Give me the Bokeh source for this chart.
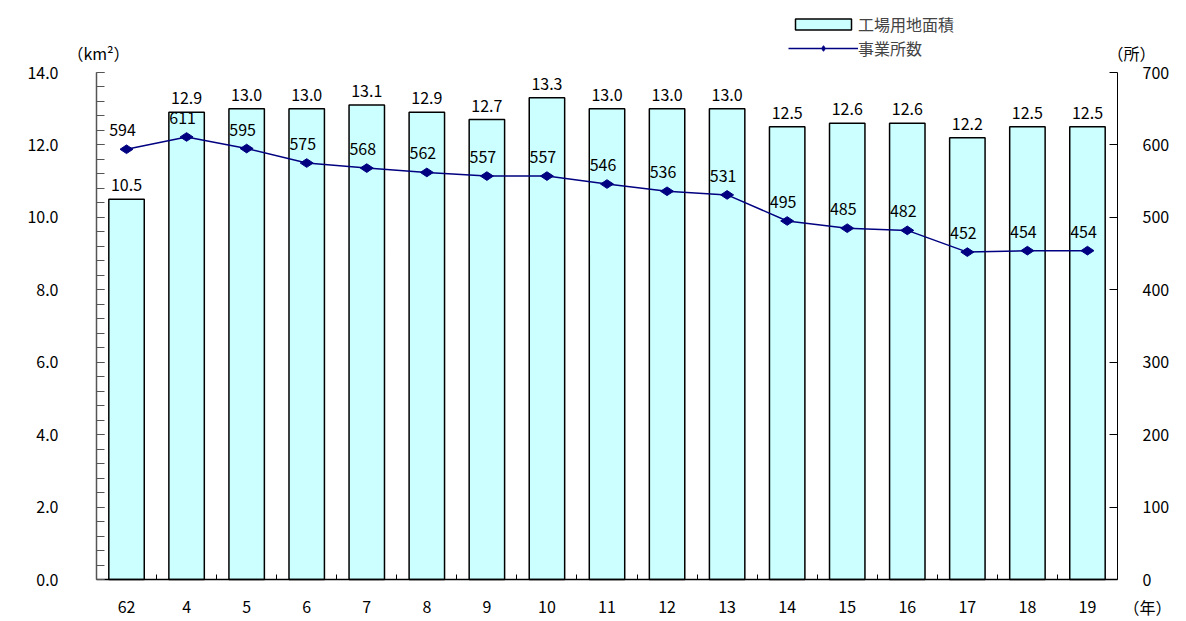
import math
from bokeh.plotting import figure
from bokeh.models import (FactorRange, Range1d, LinearAxis, CategoricalAxis,
                          SingleIntervalTicker, NumeralTickFormatter, ColumnDataSource,
                          LabelSet, Label, Legend, LegendItem)
from bokeh.core.properties import value
from bokeh.embed import file_html
from bokeh.resources import INLINE

# ---- data ----
years = ["62", "4", "5", "6", "7", "8", "9", "10", "11", "12", "13",
         "14", "15", "16", "17", "18", "19"]
area_km2 = [10.5, 12.9, 13.0, 13.0, 13.1, 12.9, 12.7, 13.3, 13.0, 13.0, 13.0,
            12.5, 12.6, 12.6, 12.2, 12.5, 12.5]
offices = [594, 611, 595, 575, 568, 562, 557, 557, 546, 536, 531,
           495, 485, 482, 452, 454, 454]
series_names = ["工場用地面積", "事業所数"]
left_unit = "（km²）"
right_unit = "（所）"
x_unit = "（年）"
AREA_MAX = 14
OFFICE_MAX = 700

FONT = "Noto Sans CJK JP"
FS = "16px"

# ---- layout (pixels) ----
W, H = 1186, 620
AX_L, AX_R, AX_T, AX_B = 96, 1117, 72, 579      # where the axes sit on the canvas
n = len(years)
band = (AX_R - AX_L) / n
pad_px = W - AX_R
LEFT = AX_L - pad_px
pad_bands = pad_px / band            # FactorRange absolute padding is applied on each side
ppu = (AX_B - AX_T) / AREA_MAX
y_start = -(H - AX_B) / ppu
y_end = AREA_MAX + AX_T / ppu
k = OFFICE_MAX / AREA_MAX

# boundaries between consecutive categories (for the small ticks on the x axis)
bounds = [f"{a}|{b}" for a, b in zip(years[:-1], years[1:])]

src = ColumnDataSource(dict(
    year=years, area=area_km2, offices=offices,
    area_label=[f"{v:.1f}" for v in area_km2],
    office_label=[str(v) for v in offices],
))

p = figure(width=W, height=H,
           x_range=FactorRange(*years, range_padding=pad_bands, range_padding_units="absolute"),
           y_range=Range1d(y_start, y_end),
           x_axis_location=None, y_axis_location=None,
           output_backend="svg", toolbar_location=None,
           min_border=0, min_border_left=LEFT)
p.extra_y_ranges = {"n": Range1d(y_start * k, y_end * k)}
p.extra_x_ranges = {"b": FactorRange(factors=bounds, range_padding=pad_bands + 0.5,
                                     range_padding_units="absolute")}
p.xgrid.visible = False
p.ygrid.visible = False
p.outline_line_color = None
p.background_fill_color = "white"
p.border_fill_color = "white"

# x axis: line + category labels
cat_axis = CategoricalAxis(fixed_location=0, bounds=(0, n),
                           axis_line_color="black", axis_line_width=1.5,
                           major_tick_line_color=None, minor_tick_line_color=None,
                           major_label_standoff=15,
                           major_label_text_font=FONT, major_label_text_font_size=FS,
                           major_label_text_color="black")
p.add_layout(cat_axis, "below")
# x axis: small ticks at the category boundaries
tick_axis = CategoricalAxis(x_range_name="b", fixed_location=0,
                            axis_line_color=None,
                            major_tick_in=5, major_tick_out=0, major_label_standoff=0,
                            major_label_overrides={b: "" for b in bounds},
                            major_label_text_font_size="1px", major_label_text_color=None,
                            major_tick_line_color="black", minor_tick_line_color=None)
p.add_layout(tick_axis, "below")

left_axis = LinearAxis(fixed_location=0, bounds=(0, AREA_MAX),
                       ticker=SingleIntervalTicker(interval=2, num_minor_ticks=5),
                       formatter=NumeralTickFormatter(format="0.0"),
                       major_tick_in=8, major_tick_out=0, minor_tick_in=8, minor_tick_out=0,
                       major_label_standoff=38, axis_line_color="#555555", axis_line_width=1.5,
                       major_tick_line_color="#555555", minor_tick_line_color="#555555",
                       major_label_text_font=FONT, major_label_text_font_size=FS,
                       major_label_text_color="black")
p.add_layout(left_axis, "left")

right_axis = LinearAxis(y_range_name="n", fixed_location=n, bounds=(0, OFFICE_MAX),
                        ticker=SingleIntervalTicker(interval=100, num_minor_ticks=0),
                        major_tick_in=8, major_tick_out=0, minor_tick_line_color=None,
                        major_label_standoff=25, axis_line_color="black",
                        major_tick_line_color="black",
                        major_label_text_font=FONT, major_label_text_font_size=FS,
                        major_label_text_color="black")
p.add_layout(right_axis, "right")

bars = p.vbar(x="year", top="area", width=0.59, source=src,
              fill_color="#CCFFFF", line_color="black", line_width=1.5)
line = p.line(x="year", y="offices", y_range_name="n", source=src,
              line_color="#000080", line_width=1.5)
pts = p.scatter(x="year", y="offices", y_range_name="n", source=src, marker="diamond",
                size=13, angle=math.pi / 2, fill_color="#000080", line_color="#000080")

p.add_layout(LabelSet(x="year", y="area", text="area_label", source=src, y_offset=8,
                      text_align="center", text_baseline="bottom",
                      text_font=value(FONT), text_font_size=value(FS), text_color="black"))
p.add_layout(LabelSet(x="year", y="offices", text="office_label", source=src, y_range_name="n",
                      y_offset=13, x_offset=-4, text_align="center", text_baseline="bottom",
                      text_font=value(FONT), text_font_size=value(FS), text_color="black"))

# unit captions, in canvas pixels (x from left, y from top)
for txt, x, y in [(left_unit, 98, 52), (right_unit, 1131, 52), (x_unit, 1147, 606)]:
    p.add_layout(Label(x=x, y=y, x_units="canvas", y_units="canvas", text=txt,
                       text_font=FONT, text_font_size="16px", text_align="center",
                       text_baseline="middle", text_color="black"))

legend = Legend(items=[LegendItem(label=series_names[0], renderers=[bars]),
                       LegendItem(label=series_names[1], renderers=[line, pts])],
                location=(788 - LEFT, H - 60), orientation="vertical", padding=0, margin=0,
                spacing=0, glyph_width=70, glyph_height=14, label_standoff=0,
                label_text_font=FONT, label_text_font_size=FS,
                background_fill_alpha=0, border_line_color=None)
p.add_layout(legend, "center")

open("out.html", "w").write(file_html(p, INLINE))
